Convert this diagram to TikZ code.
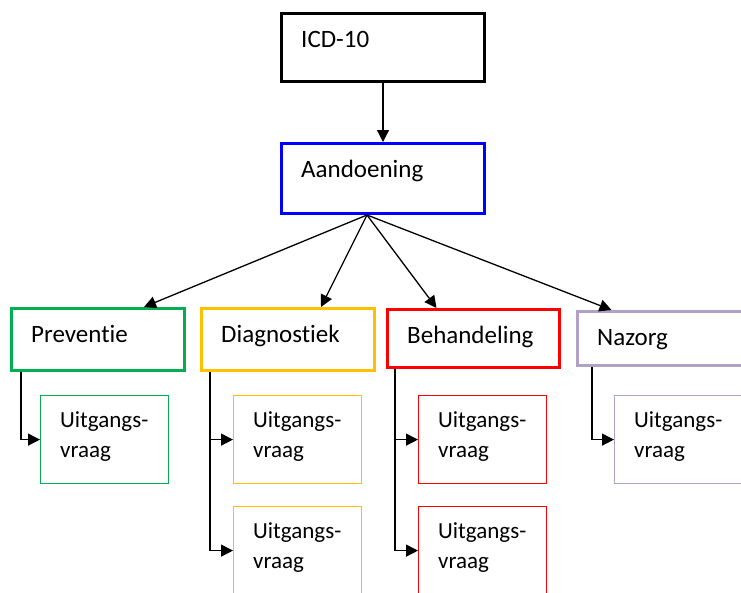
\documentclass[tikz,border=0pt]{standalone}
\usepackage{fontspec}
\setmainfont{Carlito}[Ligatures=NoCommon]
\usetikzlibrary{arrows.meta}

\definecolor{aandblue}{RGB}{0,0,255}
\definecolor{prevgreen}{RGB}{0,176,80}
\definecolor{diagyellow}{RGB}{255,192,0}
\definecolor{behred}{RGB}{255,0,0}
\definecolor{nazpurple}{RGB}{178,161,199}

\tikzset{
  hoofd/.style={draw=#1, line width=3pt, anchor=north west, inner sep=0pt},
  vraagbox/.style={draw=#1, line width=1.2pt, anchor=north west, inner sep=0pt,
    minimum width=128pt, minimum height=88pt},
  kop/.style={anchor=base west, xshift=21pt, yshift=-35pt, inner sep=0pt,
    font=\fontsize{25}{30}\selectfont},
  vraagtxt/.style={anchor=base west, xshift=20pt, yshift=-62pt, inner sep=0pt,
    align=left, font=\fontsize{23}{30}\selectfont},
  pijl/.style={-{Triangle[length=12pt,width=12pt]}, line width=1.3pt},
}

\begin{document}
\begin{tikzpicture}[x=1pt,y=-1pt]
\useasboundingbox (0,0) rectangle (741,592);

% hoofdvakken
\node[hoofd=black, minimum width=203pt, minimum height=68pt,
  label={[kop]north west:ICD-10}] (icd) at (280,12) {};
\node[hoofd=aandblue, minimum width=203pt, minimum height=70pt,
  label={[kop]north west:Aandoening}] (aand) at (280,142) {};

\node[hoofd=prevgreen, minimum width=173pt, minimum height=62pt,
  label={[kop]north west:Preventie}] (prev) at (10,307) {};
\node[hoofd=diagyellow, minimum width=173pt, minimum height=62pt,
  label={[kop]north west:Diagnostiek}] (diag) at (200,307) {};
\node[hoofd=behred, minimum width=172pt, minimum height=58pt,
  label={[kop]north west:Behandeling}] (beh) at (386,308) {};
\node[hoofd=nazpurple, minimum width=172pt, minimum height=54pt,
  label={[kop]north west:Nazorg}] (naz) at (576,310) {};

% uitgangsvragen
\node[vraagbox=prevgreen, label={[vraagtxt]north west:Uitgangs-\\vraag}] (prev1) at (40,395) {};
\node[vraagbox=diagyellow, label={[vraagtxt]north west:Uitgangs-\\vraag}] (diag1) at (233,395) {};
\node[vraagbox=diagyellow, label={[vraagtxt]north west:Uitgangs-\\vraag}] (diag2) at (233,506) {};
\node[vraagbox=behred, label={[vraagtxt]north west:Uitgangs-\\vraag}] (beh1) at (418,395) {};
\node[vraagbox=behred, label={[vraagtxt]north west:Uitgangs-\\vraag}] (beh2) at (418,506) {};
\node[vraagbox=nazpurple, label={[vraagtxt]north west:Uitgangs-\\vraag}] (naz1) at (614,395) {};

% pijlen
\draw[pijl] (icd.south) -- (aand.north);
\draw[pijl] ([xshift=-16pt]aand.south) -- ([xshift=46pt]prev.north);
\draw[pijl] ([xshift=-16pt]aand.south) -- ([xshift=33pt]diag.north);
\draw[pijl] ([xshift=-16pt]aand.south) -- ([xshift=-37pt]beh.north);
\draw[pijl] ([xshift=-16pt]aand.south) -- ([xshift=-52pt]naz.north);

\draw[pijl] ([xshift=11pt]prev.south west) |- (prev1.west);
\draw[pijl] ([xshift=10pt]diag.south west) |- (diag1.west);
\draw[pijl] ([xshift=10pt]diag.south west) |- (diag2.west);
\draw[pijl] ([xshift=9pt]beh.south west) |- (beh1.west);
\draw[pijl] ([xshift=9pt]beh.south west) |- (beh2.west);
\draw[pijl] ([xshift=16pt]naz.south west) |- (naz1.west);

\end{tikzpicture}
\end{document}
